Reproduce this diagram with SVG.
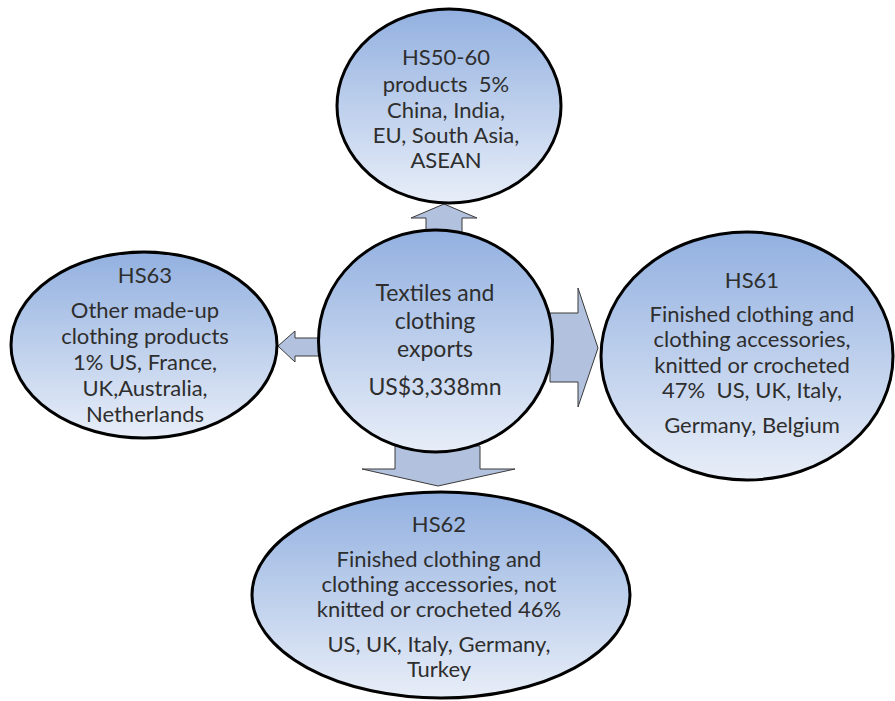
<svg xmlns="http://www.w3.org/2000/svg" width="895" height="701" viewBox="0 0 895 701">
<defs>
<linearGradient id="g" x1="0" y1="0" x2="0" y2="1">
<stop offset="0" stop-color="#92b0e0"/>
<stop offset="1" stop-color="#e8eef8"/>
</linearGradient>
<style>
.node{fill:url(#g);stroke:#000;stroke-width:3}
.arrow{fill:#b2c2de;stroke:#3a3a3a;stroke-width:1}
text{font-family:Lato,"Open Sans",sans-serif;font-size:22px;fill:#2e2e2e;text-anchor:middle;white-space:pre}
.big{font-size:23px}
</style>
</defs>
<rect width="895" height="701" fill="#fff"/>
<g id="connectors">
<polygon class="arrow" points="444,204 477,218 462,218 462,238 426,238 426,218 411,218"/>
<polygon class="arrow" points="550,313 578,313 578,288 598,348 578,407 578,382 550,382"/>
<polygon class="arrow" points="395,446 480,446 480,469 515,469 438,486 362,469 395,469"/>
<polygon class="arrow" points="322,338 295,338 295,331 278,346 295,362 295,356 322,356"/>
</g>
<g id="center">
<ellipse class="node" cx="435.5" cy="341" rx="117" ry="111"/>
<text class="big" x="435" y="301">Textiles and</text>
<text class="big" x="435" y="329">clothing</text>
<text class="big" x="435" y="357">exports</text>
<text class="big" x="435" y="395">US$3,338mn</text>
</g>
<g id="hs50-60">
<ellipse class="node" cx="449" cy="106" rx="112" ry="97"/>
<text x="446" y="65">HS50-60</text>
<text x="446" y="92" xml:space="preserve">products  5%</text>
<text x="446" y="118">China, India,</text>
<text x="446" y="143">EU, South Asia,</text>
<text x="446" y="168">ASEAN</text>
</g>
<g id="hs63">
<ellipse class="node" cx="144" cy="345" rx="133" ry="93"/>
<text x="145" y="283">HS63</text>
<text x="145" y="318">Other made-up</text>
<text x="145" y="344">clothing products</text>
<text x="145" y="370">1% US, France,</text>
<text x="145" y="396">UK,Australia,</text>
<text x="145" y="422">Netherlands</text>
</g>
<g id="hs61">
<ellipse class="node" cx="747" cy="356" rx="146" ry="124"/>
<text x="752" y="288">HS61</text>
<text x="752" y="322">Finished clothing and</text>
<text x="752" y="347">clothing accessories,</text>
<text x="752" y="373">knitted or crocheted</text>
<text x="752" y="398" xml:space="preserve">47%  US, UK, Italy,</text>
<text x="752" y="433">Germany, Belgium</text>
</g>
<g id="hs62">
<ellipse class="node" cx="441" cy="595" rx="189" ry="103"/>
<text x="439" y="532">HS62</text>
<text x="439" y="567">Finished clothing and</text>
<text x="439" y="592">clothing accessories, not</text>
<text x="439" y="617">knitted or crocheted 46%</text>
<text x="439" y="652">US, UK, Italy, Germany,</text>
<text x="439" y="677">Turkey</text>
</g>
</svg>
